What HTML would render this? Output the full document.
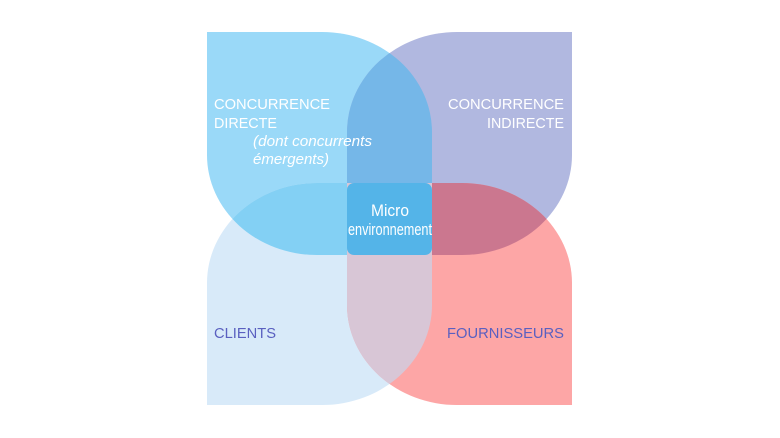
<!DOCTYPE html>
<html><head><meta charset="utf-8"><style>
html,body{margin:0;padding:0;background:#fff;}
svg{display:block;}
text{font-family:"Liberation Sans",sans-serif;}
</style></head><body>
<svg width="780" height="438" viewBox="0 0 780 438" xmlns="http://www.w3.org/2000/svg">
<defs>
<path id="tl" d="M207,32 H322 A110,100 0 0 1 432,132 V245 Q432,255 422,255 H317 A110,100 0 0 1 207,155 Z"/>
<path id="tr" d="M572,32 V155 A110,100 0 0 1 462,255 H347 V132 A110,100 0 0 1 457,32 Z"/>
<path id="bl" d="M207,405 V283 A110,100 0 0 1 317,183 H432 V305 A110,100 0 0 1 322,405 Z"/>
<path id="br" d="M572,405 H457 A110,100 0 0 1 347,305 V183 H462 A110,100 0 0 1 572,283 Z"/>
<clipPath id="ctl"><use href="#tl"/></clipPath>
<clipPath id="cbr"><use href="#br"/></clipPath>
</defs>
<use href="#tl" fill="#9ad9f8"/>
<use href="#tr" fill="#b1b8e0"/>
<use href="#bl" fill="#d8eaf9"/>
<use href="#br" fill="#fda6a6"/>
<g clip-path="url(#ctl)">
  <use href="#tr" fill="#75b7e8"/>
  <use href="#bl" fill="#83d0f4"/>
</g>
<g clip-path="url(#cbr)">
  <use href="#tr" fill="#cb778f"/>
  <use href="#bl" fill="#d8c6d6"/>
</g>
<rect x="347" y="183" width="85" height="72" rx="7" fill="#54b4e8"/>
<g fill="#fff" font-size="14.5">
<text x="214" y="109" textLength="116" lengthAdjust="spacingAndGlyphs">CONCURRENCE</text>
<text x="214" y="128" textLength="63" lengthAdjust="spacingAndGlyphs">DIRECTE</text>
<text x="253" y="146" font-style="italic" textLength="119" lengthAdjust="spacingAndGlyphs">(dont concurrents</text>
<text x="253" y="164" font-style="italic" textLength="76" lengthAdjust="spacingAndGlyphs">émergents)</text>
<text x="448" y="109" textLength="116" lengthAdjust="spacingAndGlyphs">CONCURRENCE</text>
<text x="487" y="128" textLength="77" lengthAdjust="spacingAndGlyphs">INDIRECTE</text>
</g>
<g fill="#5a60c0" font-size="14.5">
<text x="214" y="338" textLength="62" lengthAdjust="spacingAndGlyphs">CLIENTS</text>
<text x="447" y="338" textLength="117" lengthAdjust="spacingAndGlyphs">FOURNISSEURS</text>
</g>
<g fill="#fff" font-size="17">
<text x="371" y="216" textLength="38" lengthAdjust="spacingAndGlyphs">Micro</text>
<text x="348" y="235" textLength="84" lengthAdjust="spacingAndGlyphs">environnement</text>
</g>
</svg>
</body></html>
